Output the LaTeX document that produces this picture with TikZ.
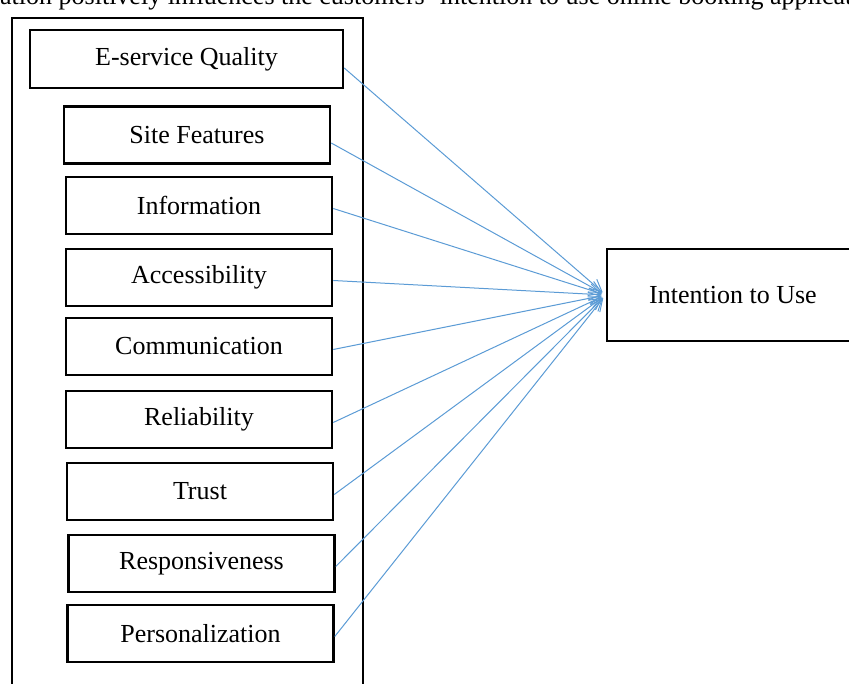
\documentclass[tikz,border=0pt]{standalone}
\usepackage{fontspec}
\setmainfont{Liberation Serif}
\usetikzlibrary{arrows.meta}
\definecolor{linkblue}{RGB}{91,155,213}

\begin{document}
\begin{tikzpicture}[x=1pt, y=-1pt,
	every node/.style = {font=\fontsize{26}{30}\selectfont},
	factor/.style = {draw, line width=2.5pt, inner sep=0pt,
		minimum width=266pt, minimum height=57pt},
	link/.style = {draw=linkblue, line width=1pt,
		-{Straight Barb[length=12pt,width=12pt]}, shorten >=4pt}]
\path[use as bounding box, clip] (0,0) rectangle (849,684);
% running text of the page, cut by the frame
\node[anchor=base west, inner sep=0pt] (caption) at (0,5)
	{ation positively influences the customers' intention to use online booking application};
% frame round the dimensions
\draw[line width=2pt] (12,700) -- (12,18) -- (363,18) -- (363,700);
\node[factor, minimum width=313pt, minimum height=58pt] (esq) at (186.5,59) {E-service Quality};
\node[factor] (site) at (197,135) {Site Features};
\node[factor] (info) at (199,205.5) {Information};
\node[factor] (access) at (199,277.5) {Accessibility};
\node[factor] (comm) at (199,346.5) {Communication};
\node[factor] (rel) at (199,419.5) {Reliability};
\node[factor] (trust) at (200,491.5) {Trust};
\node[factor] (resp) at (201.5,563.5) {Responsiveness};
\node[factor] (pers) at (200.5,633.5) {Personalization};
\node[factor, minimum width=252pt, minimum height=92pt] (intent) at (733,295) {Intention to Use};
% paths to the outcome
\draw[link] ([yshift=-9pt]esq.east) -- (intent.west);
\draw[link] ([yshift=-8pt]site.east) -- (intent.west);
\foreach \n in {info,access,comm,rel,trust,resp,pers}
	\draw[link] ([yshift=-3pt]\n.east) -- (intent.west);
\end{tikzpicture}
\end{document}
